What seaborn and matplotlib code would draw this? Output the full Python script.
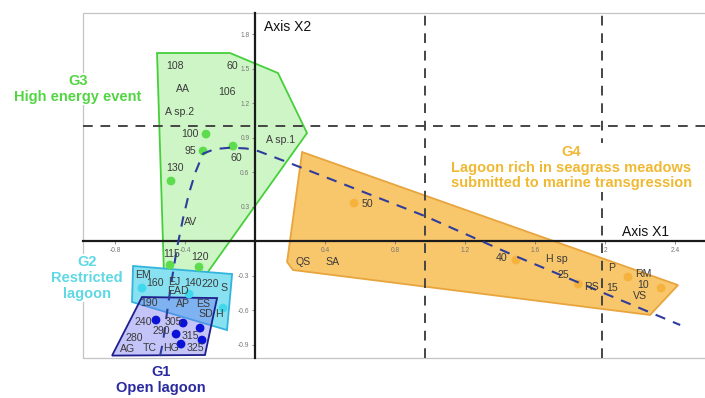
import numpy as np
import pandas as pd
import matplotlib
matplotlib.use("Agg")
import matplotlib.pyplot as plt
from matplotlib.patches import Polygon, Rectangle
import seaborn as sns

# ---- sample scores on factorial axes X1 / X2 (plotted as dots) ----
dot_group = ["G3"] * 6 + ["G4"] * 5 + ["G2"] * 3 + ["G1"] * 6
dot_x = [-0.280, -0.297, -0.126, -0.480, -0.486, -0.320,
         0.566, 1.491, 1.846, 2.131, 2.320,
         -0.646, -0.377, -0.183,
         -0.566, -0.411, -0.314, -0.451, -0.303, -0.423]
dot_y = [0.930, 0.783, 0.826, 0.522, -0.209, -0.226,
         0.330, -0.165, -0.374, -0.313, -0.409,
         -0.409, -0.461, -0.583,
         -0.687, -0.713, -0.757, -0.809, -0.861, -0.896]

# ---- sample / taxon labels ----
label_text = ["108", "60", "AA", "106", "A sp.2", "A sp.1", "100", "95", "60",
              "130", "AV", "115", "120",
              "50", "QS", "SA", "40", "H sp", "25", "RS", "15", "P", "RM", "10", "VS",
              "EM", "160", "EJ", "EAD", "140", "220", "S", "190", "AP", "ES", "SD",
              "H", "240", "305", "290", "315", "280", "AG", "TC", "HG", "325"]
label_x = [-0.457, -0.131, -0.411, -0.160, -0.429, 0.143, -0.371, -0.371, -0.109,
           -0.457, -0.366, -0.474, -0.314,
           0.640, 0.274, 0.440, 1.411, 1.726, 1.760, 1.920, 2.040, 2.040, 2.217, 2.217, 2.200,
           -0.640, -0.571, -0.463, -0.440, -0.354, -0.257, -0.177, -0.606, -0.411, -0.297,
           -0.280, -0.206, -0.640, -0.469, -0.537, -0.371, -0.691, -0.731, -0.600, -0.480, -0.343]
label_y = [1.522, 1.522, 1.322, 1.296, 1.122, 0.878, 0.930, 0.783, 0.722,
           0.635, 0.165, -0.113, -0.139,
           0.322, -0.183, -0.183, -0.148, -0.157, -0.296, -0.400, -0.409, -0.235, -0.287, -0.383, -0.478,
           -0.296, -0.365, -0.357, -0.435, -0.365, -0.374, -0.409, -0.539, -0.548, -0.548,
           -0.635, -0.635, -0.704, -0.704, -0.783, -0.826, -0.840, -0.935, -0.930, -0.930, -0.930]

# ---- group envelopes ----
g3_hull_x = [-0.560, -0.143, 0.131, 0.297, -0.286, -0.520]
g3_hull_y = [1.635, 1.635, 1.461, 0.939, -0.304, -0.304]
g4_hull_x = [0.269, 2.417, 2.257, 0.217, 0.183]
g4_hull_y = [0.774, -0.383, -0.643, -0.252, -0.183]
g2_hull_x = [-0.697, -0.131, -0.160, -0.703]
g2_hull_y = [-0.217, -0.287, -0.774, -0.530]
g1_hull_x = [-0.646, -0.217, -0.286, -0.817]
g1_hull_y = [-0.487, -0.496, -0.991, -0.996]

# ---- trend of the succession ----
trend_x = [-0.543, -0.526, -0.497, -0.474, -0.446, -0.411, -0.377, -0.340,
           -0.297, -0.230, -0.140, -0.050, 0.017, 0.183, 0.971, 1.474, 2.429]
trend_y = [-1.000, -0.878, -0.557, -0.322, -0.061, 0.200, 0.417, 0.600,
           0.760, 0.800, 0.812, 0.805, 0.783, 0.687, 0.217, -0.122, -0.730]

# ---- axis ticks ----
xticks = [-0.8, -0.4, 0.4, 0.8, 1.2, 1.6, 2.0, 2.4]
xtick_labels = ["-0.8", "-0.4", "0.4", "0.8", "1.2", "1.6", "2", "2.4"]
yticks = [-0.9, -0.6, -0.3, 0.3, 0.6, 0.9, 1.2, 1.5, 1.8]
ytick_labels = ["-0.9", "-0.6", "-0.3", "0.3", "0.6", "0.9", "1.2", "1.5", "1.8"]

# ---- group titles ----
group_names = ["G3\nHigh energy event", "G2\nRestricted\nlagoon", "G1\nOpen lagoon",
               "G4\nLagoon rich in seagrass meadows\nsubmitted to marine transgression"]
group_name_x = [-1.011, -0.960, -0.537, 1.806]
group_name_y = [1.322, -0.322, -1.209, 0.639]

sns.set_theme(style="white")
plt.rcParams["font.family"] = ["Liberation Sans", "DejaVu Sans"]

palette_dot = {"G1": "#0b12d8", "G2": "#40d8ec", "G3": "#5ddc4e", "G4": "#f5b23c"}
face = {"G1": (0.45, 0.45, 0.95, 0.42), "G2": "#88e1f0", "G3": "#cef5c6", "G4": "#f8c66b"}
edge = {"G1": "#1e1e8c", "G2": "#33b4dc", "G3": "#46cf3b", "G4": "#e8a53e"}
title_color = ["#52d443", "#5fd8e4", "#2a2aa0", "#efb933"]

fig = plt.figure(figsize=(7.05, 3.98), dpi=100)
ax = fig.add_axes([83 / 705, 40 / 398, 622 / 705, 345 / 398])
ax.set_xlim(-0.983, 2.571)
ax.set_ylim(-1.017, 1.983)

# envelopes
hulls = [("G3", g3_hull_x, g3_hull_y), ("G4", g4_hull_x, g4_hull_y),
         ("G2", g2_hull_x, g2_hull_y), ("G1", g1_hull_x, g1_hull_y)]
for i, (g, hx, hy) in enumerate(hulls):
    ax.add_patch(Polygon(np.column_stack([hx, hy]), closed=True, facecolor=face[g],
                         edgecolor=edge[g], lw=1.3, zorder=1 + i * 0.1))

# class limits
dash = (0, (5, 4))
ax.axhline(1.0, color="#454545", lw=1.4, ls=dash, zorder=3)
ax.axvline(0.97, color="#454545", lw=1.4, ls=dash, zorder=3)
ax.axvline(1.98, color="#454545", lw=1.4, ls=dash, zorder=3)

# frame
ax.add_patch(Rectangle((0, 0), 1.05, 1, transform=ax.transAxes, fill=False,
                       edgecolor="#c4c4c4", lw=0.9, clip_on=False, zorder=0.5))

df = pd.DataFrame({"x": dot_x, "y": dot_y, "group": dot_group})
sns.scatterplot(data=df, x="x", y="y", hue="group", palette=palette_dot, s=40,
                edgecolor="none", legend=False, ax=ax, zorder=5)

sns.lineplot(x=trend_x, y=trend_y, sort=False, estimator=None, color="#2e3c9c",
             lw=1.5, ax=ax, zorder=6)
ax.lines[-1].set_linestyle((0, (5, 4)))

for t, x, y in zip(label_text, label_x, label_y):
    ax.text(x, y, t, ha="center", va="center", fontsize=7.6, color="#3a3a3a", zorder=7)

for t, x, y, c in zip(group_names, group_name_x, group_name_y, title_color):
    ax.text(x, y, t, ha="center", va="center", fontsize=10.5, fontweight="bold",
            color=c, linespacing=1.15, zorder=8, clip_on=False,
            bbox=dict(facecolor="white", edgecolor="none", pad=1.0))

ax.text(0.189, 1.861, "Axis X2", ha="center", va="center", fontsize=10, color="#111")
ax.text(2.229, 0.075, "Axis X1", ha="center", va="center", fontsize=10, color="#111")

# axes through the origin
for s in ["top", "right"]:
    ax.spines[s].set_visible(False)
ax.spines["left"].set_position(("data", 0))
ax.spines["bottom"].set_position(("data", 0))
for s in ["left", "bottom"]:
    ax.spines[s].set_color("#1a1a1a")
    ax.spines[s].set_linewidth(1.6)
    ax.spines[s].set_zorder(4)
ax.set_xticks(xticks, xtick_labels)
ax.set_yticks(yticks, ytick_labels)
ax.tick_params(axis="both", which="both", direction="out", length=2.5, width=0.6,
               colors="#777777", labelsize=4.8, pad=1.5, left=True, bottom=True)
ax.set_xlabel("")
ax.set_ylabel("")
ax.set_axisbelow(False)

fig.savefig("out.png", dpi=100)
